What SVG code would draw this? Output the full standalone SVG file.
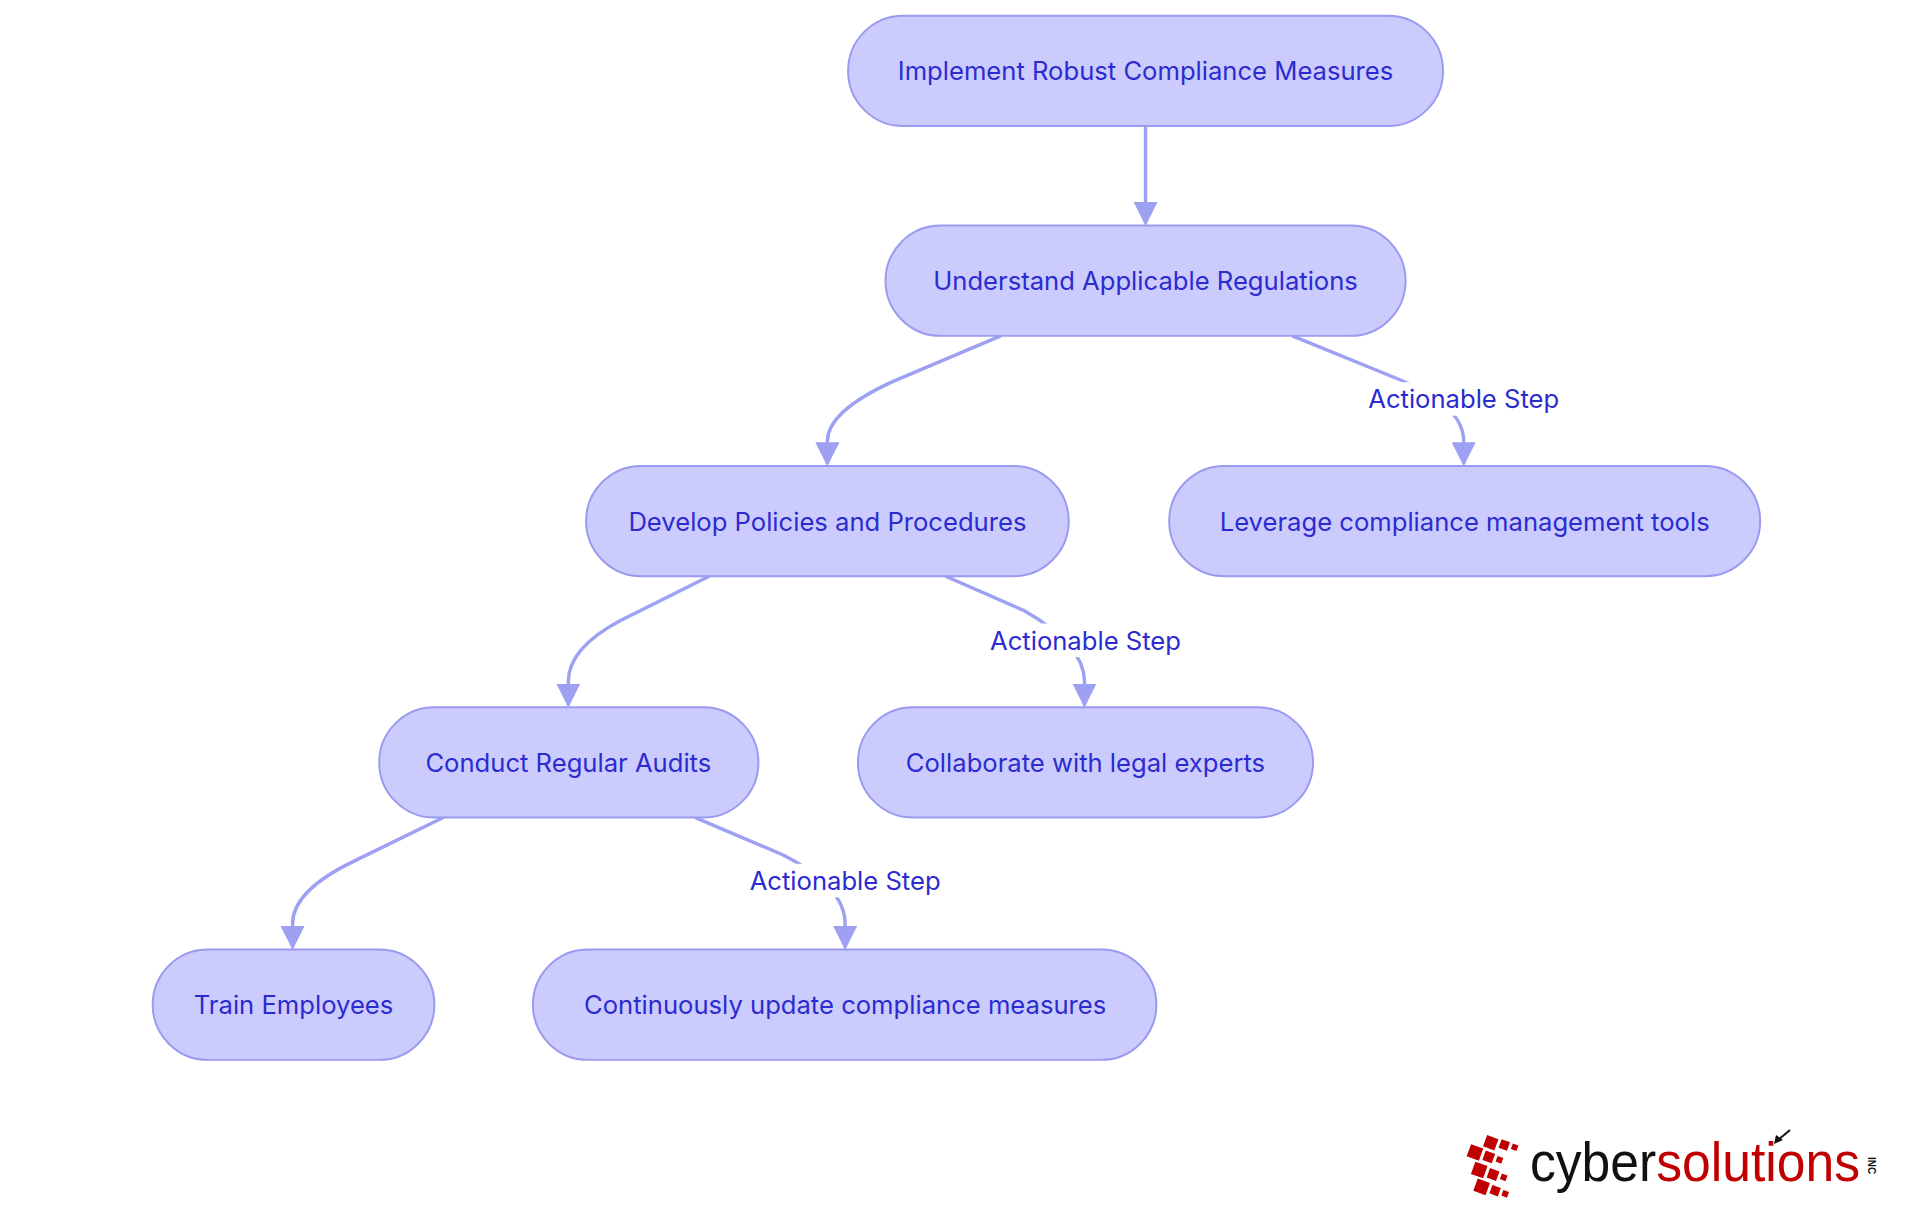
<svg xmlns="http://www.w3.org/2000/svg" width="1920" height="1215" viewBox="0 0 1920 1215">
<defs>
<style>
.n rect{fill:#cbcbfd;stroke:#9a9af0;stroke-width:2}
.n text,.lb text{font-family:Inter,"Open Sans",sans-serif;font-size:26px;fill:#2b2bd0;text-anchor:middle;dominant-baseline:central}
.e path{fill:none;stroke:#9ea0f2;stroke-width:3.5}
.lb rect{fill:#fff}
.sq{fill:#c00000}
.lg{font-family:'Liberation Sans',sans-serif;font-size:56px}
</style>
<marker id="a" viewBox="0 0 10 10" refX="9" refY="5" markerWidth="7" markerHeight="7" markerUnits="strokeWidth" orient="auto"><path d="M0,0L10,5L0,10z" fill="#9ea0f2"/></marker>
</defs>
<rect width="1920" height="1215" fill="#fff"/>
<g transform="scale(0.985)">
<g id="edges" class="e">
<path d="M1163,128 L1163,227" marker-end="url(#a)"/>
<path d="M1016,341 L905,388 Q840,418 840,448 L840,471" marker-end="url(#a)"/>
<path d="M1312,341 L1420,385 Q1486,412 1486,448 L1486,471" marker-end="url(#a)"/>
<path d="M720,585 L630,630 Q577,658 577,692 L577,716" marker-end="url(#a)"/>
<path d="M960,585 L1040,620 Q1101,655 1101,692 L1101,716" marker-end="url(#a)"/>
<path d="M450,830 L360,874 Q297,904 297,938 L297,962" marker-end="url(#a)"/>
<path d="M706,830 L795,868 Q858,900 858,938 L858,962" marker-end="url(#a)"/>
</g>
<g class="lb">
<g id="l1"><rect x="1383" y="388" width="206" height="34"/><text x="1486" y="405">Actionable Step</text></g>
<g id="l2"><rect x="999" y="633" width="206" height="34"/><text x="1102" y="650">Actionable Step</text></g>
<g id="l3"><rect x="755" y="877" width="206" height="34"/><text x="858" y="894">Actionable Step</text></g>
</g>
<g id="n1" class="n"><rect x="861" y="16" width="604" height="112" rx="56"/><text x="1163" y="72">Implement Robust Compliance Measures</text></g>
<g id="n2" class="n"><rect x="899" y="229" width="528" height="112" rx="56"/><text x="1163" y="285">Understand Applicable Regulations</text></g>
<g id="n3" class="n"><rect x="595" y="473" width="490" height="112" rx="56"/><text x="840" y="529">Develop Policies and Procedures</text></g>
<g id="n4" class="n"><rect x="1187" y="473" width="600" height="112" rx="56"/><text x="1487" y="529">Leverage compliance management tools</text></g>
<g id="n5" class="n"><rect x="385" y="718" width="385" height="112" rx="56"/><text x="577" y="774">Conduct Regular Audits</text></g>
<g id="n6" class="n"><rect x="871" y="718" width="462" height="112" rx="56"/><text x="1102" y="774">Collaborate with legal experts</text></g>
<g id="n7" class="n"><rect x="155" y="964" width="286" height="112" rx="56"/><text x="298" y="1020">Train Employees</text></g>
<g id="n8" class="n"><rect x="541" y="964" width="633" height="112" rx="56"/><text x="858" y="1020">Continuously update compliance measures</text></g>
</g>
<g id="logo">
<g transform="rotate(20 1505 1165)">
<rect class="sq" x="1478" y="1143" width="12" height="12"/><rect class="sq" x="1493" y="1142" width="9" height="9"/><rect class="sq" x="1505" y="1142" width="6" height="6"/>
<rect class="sq" x="1466" y="1157" width="13" height="13"/><rect class="sq" x="1482" y="1158" width="10" height="10"/><rect class="sq" x="1495" y="1159" width="6" height="6"/>
<rect class="sq" x="1476" y="1172" width="13" height="13"/><rect class="sq" x="1492" y="1173" width="10" height="10"/><rect class="sq" x="1505" y="1174" width="6" height="6"/>
<rect class="sq" x="1484" y="1187" width="13" height="13"/><rect class="sq" x="1500" y="1188" width="9" height="9"/><rect class="sq" x="1512" y="1189" width="6" height="6"/>
</g>
<text class="lg" x="1530" y="1181" textLength="330" lengthAdjust="spacingAndGlyphs"><tspan fill="#111">cyber</tspan><tspan fill="#c00000">solutions</tspan></text>
<path d="M1790,1130 L1778,1140" stroke="#111" stroke-width="2"/><path d="M1774,1144 L1776,1135 L1783,1140z" fill="#111"/>
<text x="1868" y="1157" font-family="'Liberation Sans',sans-serif" font-size="10" font-weight="bold" fill="#111" transform="rotate(90 1868 1157)">INC</text>
</g>
</svg>
